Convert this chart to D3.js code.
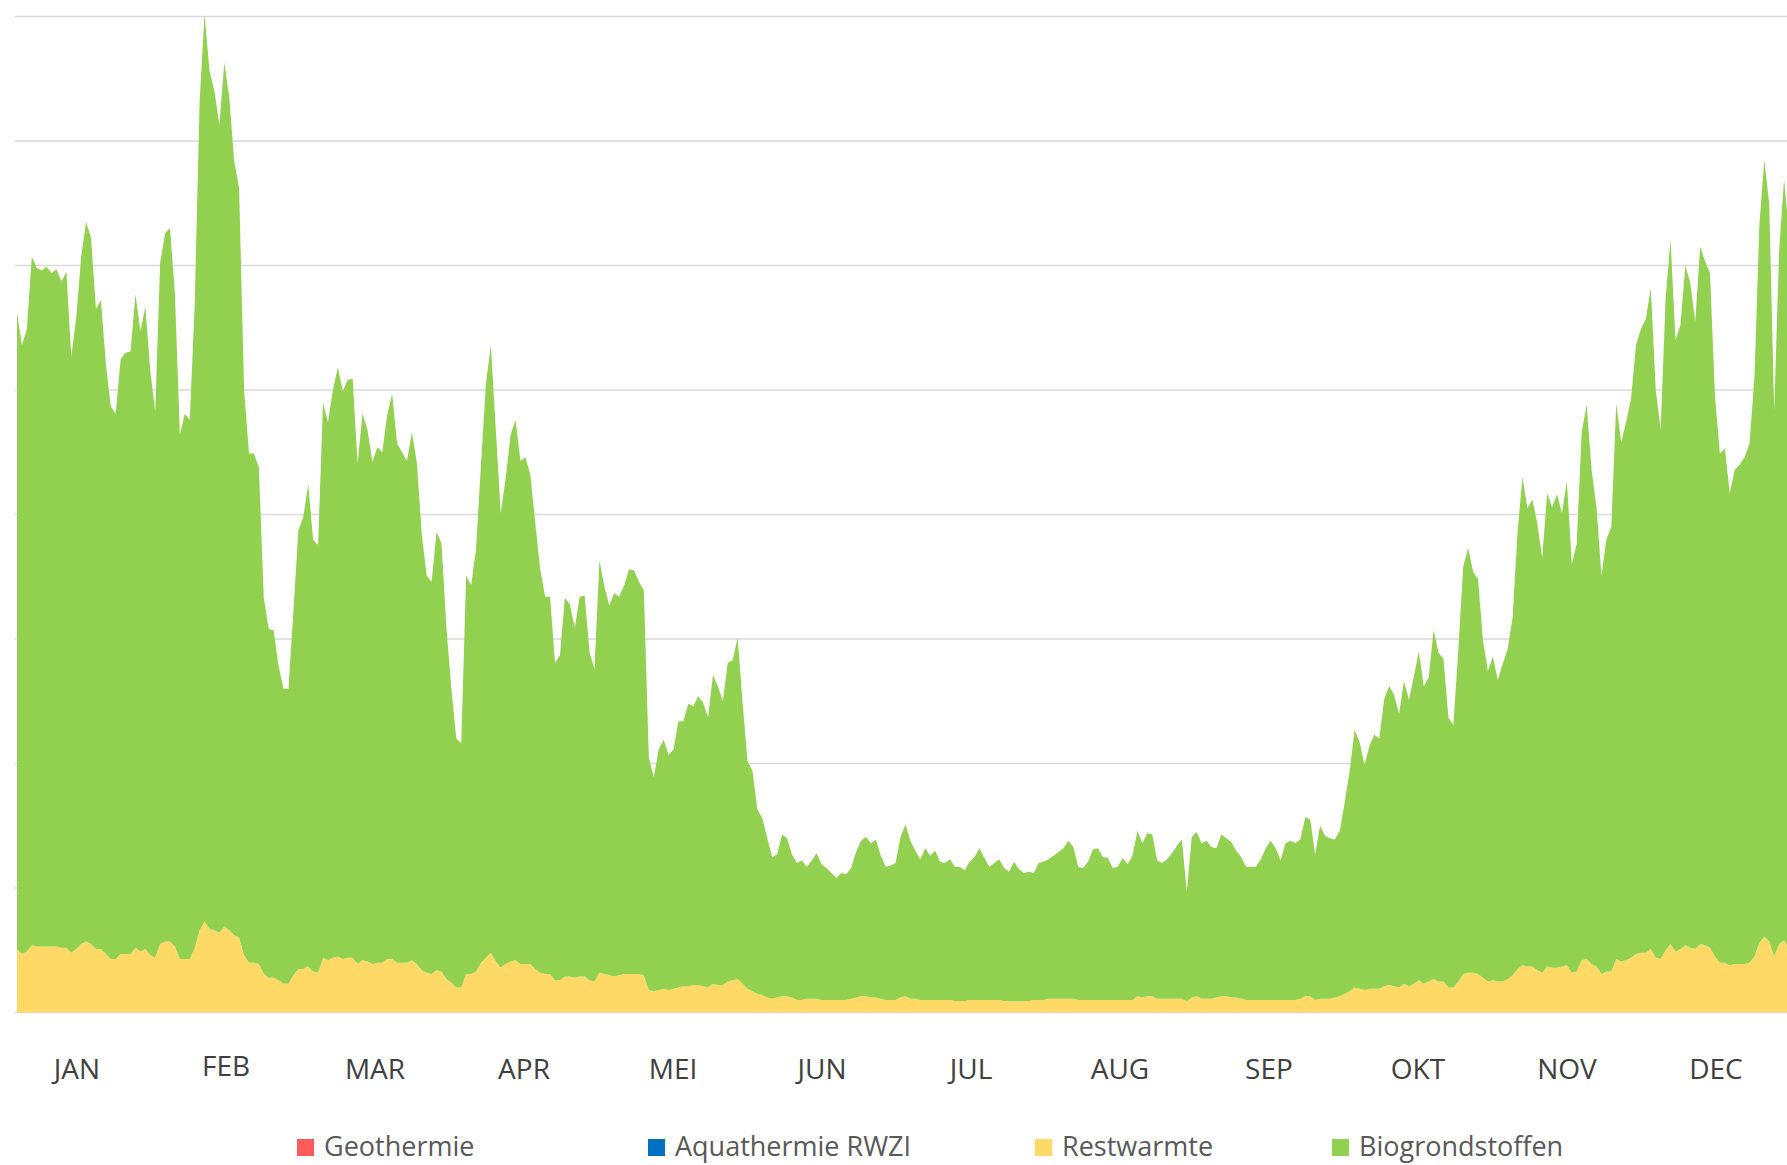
<!DOCTYPE html>
<html lang="nl">
<head>
<meta charset="UTF-8">
<title>Warmtebronnen per dag</title>
<script src="https://d3js.org/d3.v7.min.js"></script>
<style>
  html, body { margin: 0; padding: 0; background: #fff; }
  svg { display: block; font-family: "Open Sans", "Noto Sans", sans-serif; }
</style>
</head>
<body>
<div id="chart"></div>
<script>
// maanden op de x-as
const maanden = ['JAN','FEB','MAR','APR','MEI','JUN','JUL','AUG','SEP','OKT','NOV','DEC'];

// reeksen (legenda-volgorde)
const reeksen = ['Geothermie','Aquathermie RWZI','Restwarmte','Biogrondstoffen'];
const kleuren = ['#ff5b5b','#0070c0','#ffd966','#92d050'];

// dagwaarden (eenheid: 100 per rasterlijn)
const restwarmte = [
  51,47,49,54,53,53,53,53,53,52, 52,48,51,55,57,55,51,51,47,43,
  43,47,47,47,52,49,51,46,44,55, 57,57,53,43,43,43,52,66,73,67,
  66,64,69,66,62,60,46,40,40,39, 31,28,28,26,23,23,30,35,35,37,
  33,32,44,42,44,45,43,44,44,39, 42,41,39,40,40,43,43,40,40,40,
  42,39,34,32,31,34,33,27,24,20, 20,31,31,33,40,44,48,41,36,39,
  41,42,39,39,39,35,32,31,31,26, 26,29,29,28,29,29,26,25,32,31,
  30,29,30,31,31,31,31,30,18,17, 18,19,18,19,20,21,21,22,22,21,
  20,23,22,22,25,26,27,23,19,17, 15,14,12,11,12,13,13,12,10,10,
  11,11,11,10,10,10,10,10,10,11, 12,13,13,12,12,11,10,10,10,12,
  13,11,11,10,10,10,10,10,10,10, 9,9,9,10,10,10,10,10,10,10,
  9,9,9,9,9,9,10,10,10,11, 11,11,11,11,11,10,10,10,10,10,
  10,10,10,10,10,10,10,13,12,13, 13,11,11,11,11,11,11,9,12,13,
  11,11,11,12,13,13,12,12,11,10, 10,10,10,10,10,10,10,10,10,10,
  11,13,13,10,11,11,11,12,13,15, 17,20,19,18,19,19,19,21,22,21,
  20,23,21,23,26,23,25,27,25,25, 20,20,25,31,32,32,31,28,25,26,
  25,25,27,30,35,38,37,37,34,32, 37,36,36,37,38,32,33,42,43,39,
  37,31,33,33,43,41,42,44,47,48, 48,51,44,43,50,55,49,51,54,52,
  51,55,54,52,45,40,40,38,39,39, 39,40,45,56,61,57,45,55,58,51
];
const biogrondstoffen = [
  511,489,500,553,545,543,546,541,544,535, 543,479,507,552,578,567,514,521,474,444,
  438,478,483,484,525,498,516,469,439,547, 569,573,524,421,438,433,516,666,729,689,
  674,649,694,669,622,602,454,409,409,399, 302,280,279,252,237,237,292,352,363,387,
  347,343,446,432,456,473,456,464,465,402, 439,427,403,414,410,437,454,417,410,403,
  424,403,350,319,315,352,344,282,236,200, 196,320,312,339,400,461,488,427,365,390,
  423,434,404,407,393,358,324,303,303,255, 261,304,299,281,305,306,263,251,331,311,
  297,308,304,312,325,324,315,309,187,172, 193,200,189,192,214,213,227,224,232,228,
  217,248,240,228,256,257,274,226,183,177, 148,142,128,114,115,130,127,115,110,112,
  106,111,117,109,106,102,98,102,101,105, 117,125,128,124,127,115,107,108,110,129,
  138,127,119,113,122,116,120,111,110,113, 108,108,105,111,115,122,114,107,110,113,
  107,104,112,106,103,104,102,110,111,112, 115,118,121,127,122,107,106,111,121,122,
  115,114,106,107,114,109,116,133,124,131, 130,111,109,112,117,123,128,88,129,132,
  125,127,122,120,130,127,125,118,114,107, 107,107,113,122,128,122,112,126,128,126,
  128,144,142,117,139,131,129,127,133,154, 177,207,198,181,195,204,201,231,240,234,
  220,243,230,247,264,239,244,280,264,259, 217,211,266,327,341,322,317,271,249,260,
  242,255,265,287,350,392,368,375,359,333, 380,370,380,364,389,328,344,424,445,397,
  369,320,347,357,446,417,432,449,489,501, 509,531,456,425,523,566,491,501,546,534,
  504,560,549,542,450,409,413,379,397,401, 407,417,465,577,624,592,438,557,611,574
];

const rasterWaarden = [0,100,200,300,400,500,600,700,800];

const W = 1787, H = 1165;
const svg = d3.select('#chart').append('svg')
  .attr('width', W).attr('height', H)
  .attr('viewBox', `0 0 ${W} ${H}`);

const x = d3.scaleLinear().domain([0, 359]).range([17, 1789]);
const y = d3.scaleLinear().domain([0, 800]).range([1012.5, 16.5]);
const xm = d3.scalePoint().domain(maanden).range([77, 1716]);

// rasterlijnen
svg.append('g')
  .selectAll('line').data(rasterWaarden).join('line')
  .attr('x1', 15).attr('x2', W)
  .attr('y1', d => y(d)).attr('y2', d => y(d))
  .attr('stroke', '#d9d9d9').attr('stroke-width', 1.4);

const rijen = restwarmte.map((r, i) => ({dag: i, Restwarmte: r, Biogrondstoffen: biogrondstoffen[i]}));
const stapel = d3.stack().keys(['Restwarmte','Biogrondstoffen'])(rijen);

const vlak = d3.area()
  .x(d => x(d.data.dag))
  .y0(d => y(d[0]))
  .y1(d => y(d[1]));

svg.append('g')
  .selectAll('path').data(stapel).join('path')
  .attr('fill', d => kleuren[reeksen.indexOf(d.key)])
  .attr('d', vlak);

// x-as labels
svg.append('g')
  .selectAll('text').data(maanden).join('text')
  .attr('x', d => xm(d))
  .attr('y', d => d === 'FEB' ? 1076 : 1079)
  .attr('text-anchor', 'middle')
  .attr('font-size', 28)
  .attr('fill', '#404040')
  .text(d => d);

// legenda
const legX = [297, 648, 1035, 1332];
const leg = svg.append('g')
  .selectAll('g').data(reeksen).join('g')
  .attr('transform', (d, i) => `translate(${legX[i]},1139)`);
leg.append('rect')
  .attr('width', 17).attr('height', 17)
  .attr('fill', (d, i) => kleuren[i]);
leg.append('text')
  .attr('x', 27).attr('y', 17)
  .attr('font-size', 27)
  .attr('fill', '#595959')
  .text(d => d);
</script>
</body>
</html>
